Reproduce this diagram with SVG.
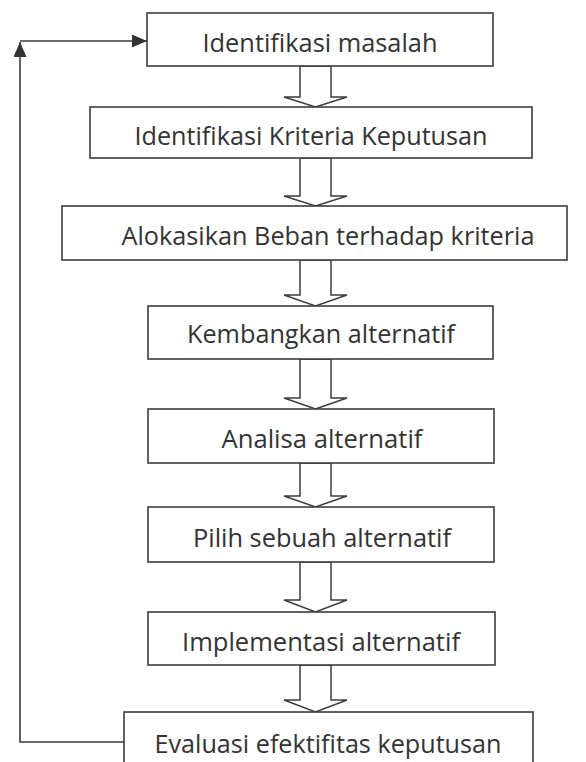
<svg xmlns="http://www.w3.org/2000/svg" width="586" height="762" viewBox="0 0 586 762">
  <style>
    .box rect { fill: #ffffff; stroke: #3d3d3d; stroke-width: 1.6; }
    .box text { font-family: "Open Sans", "Noto Sans", "DejaVu Sans", sans-serif; font-size: 25px; fill: #333333; text-anchor: middle; }
    .blk { fill: #ffffff; stroke: #3d3d3d; stroke-width: 1.5; stroke-linejoin: miter; }
    .line { fill: none; stroke: #3d3d3d; stroke-width: 1.6; }
  </style>
  <defs>
    <marker id="head" viewBox="0 0 15 13" refX="15" refY="6.5" markerWidth="15" markerHeight="13" markerUnits="userSpaceOnUse" orient="auto">
      <path d="M0,0 L15,6.5 L0,13 Z" fill="#333333"/>
    </marker>
  </defs>
  <rect width="586" height="762" fill="#ffffff"/>

  <g id="connectors">
    <path class="blk" d="M300,66 V97 H284 L315.5,107 L347,97 H331 V66 Z"/>
    <path class="blk" d="M300,158 V196 H284 L315.5,206 L347,196 H331 V158 Z"/>
    <path class="blk" d="M300,260 V295 H284 L315.5,306 L347,295 H331 V260 Z"/>
    <path class="blk" d="M300,359 V398 H284 L315.5,409 L347,398 H331 V359 Z"/>
    <path class="blk" d="M300,463 V496 H284 L315.5,507 L347,496 H331 V463 Z"/>
    <path class="blk" d="M300,562 V600 H284 L315.5,612 L347,600 H331 V562 Z"/>
    <path class="blk" d="M300,665 V700 H284 L315.5,712 L347,700 H331 V665 Z"/>
    <path class="line" d="M124,742 H20 V42" marker-end="url(#head)"/>
    <path class="line" d="M20,41 H147" marker-end="url(#head)"/>
  </g>

  <g id="n1" class="box">
    <rect x="147" y="13" width="346" height="53"/>
    <text x="320" y="52" textLength="235" lengthAdjust="spacingAndGlyphs">Identifikasi masalah</text>
  </g>
  <g id="n2" class="box">
    <rect x="90" y="107" width="442" height="51"/>
    <text x="311" y="145" textLength="353" lengthAdjust="spacingAndGlyphs">Identifikasi Kriteria Keputusan</text>
  </g>
  <g id="n3" class="box">
    <rect x="62" y="206" width="505" height="54"/>
    <text x="328" y="245" textLength="413" lengthAdjust="spacingAndGlyphs">Alokasikan Beban terhadap kriteria</text>
  </g>
  <g id="n4" class="box">
    <rect x="148" y="306" width="345" height="53"/>
    <text x="321" y="343" textLength="268" lengthAdjust="spacingAndGlyphs">Kembangkan alternatif</text>
  </g>
  <g id="n5" class="box">
    <rect x="148" y="409" width="346" height="54"/>
    <text x="322" y="448" textLength="201" lengthAdjust="spacingAndGlyphs">Analisa alternatif</text>
  </g>
  <g id="n6" class="box">
    <rect x="148" y="507" width="346" height="55"/>
    <text x="322" y="547" textLength="258" lengthAdjust="spacingAndGlyphs">Pilih sebuah alternatif</text>
  </g>
  <g id="n7" class="box">
    <rect x="148" y="612" width="347" height="53"/>
    <text x="321" y="651" textLength="278" lengthAdjust="spacingAndGlyphs">Implementasi alternatif</text>
  </g>
  <g id="n8" class="box">
    <rect x="124" y="712" width="409" height="70"/>
    <text x="328" y="753" textLength="347" lengthAdjust="spacingAndGlyphs">Evaluasi efektifitas keputusan</text>
  </g>
</svg>
